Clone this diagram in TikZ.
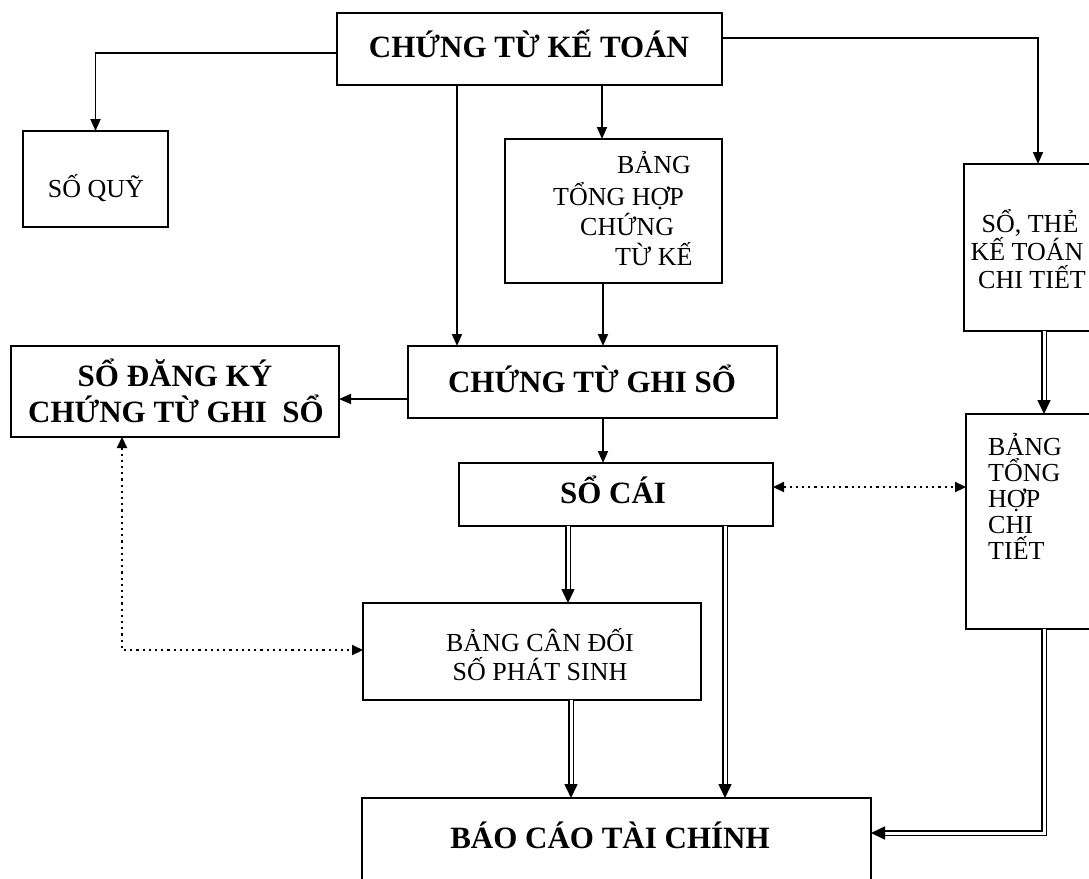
\documentclass[tikz,border=0pt]{standalone}
\usepackage{fontspec}
\setmainfont{Liberation Serif}
\usetikzlibrary{arrows.meta,calc}
\begin{document}
\begin{tikzpicture}[x=1pt,y=-1pt,
  box/.style={draw, line width=1.9pt, rectangle, inner sep=0pt, outer sep=0pt},
  arr/.style={line width=1.8pt, -{Triangle[length=12pt,width=10pt]}},
  dbl/.style={double, double distance=3pt, line width=1.6pt, -{Triangle[length=14pt,width=13pt]}},
  dotl/.style={line width=2.2pt, dash pattern=on 2.2pt off 4pt, {Triangle[length=11pt,width=10pt]}-{Triangle[length=11pt,width=10pt]}},
  rg/.style={font=\fontsize{26}{28}\selectfont, anchor=base, inner sep=0pt},
  rgw/.style={rg, anchor=base west},
  bd/.style={font=\fontsize{31}{33}\selectfont\bfseries, anchor=base, inner sep=0pt},
]
\path[use as bounding box, clip] (0,0) rectangle (1089,878);
\fill[white] (0,0) rectangle (1089,878);

% boxes
\node[box, minimum width=385pt, minimum height=72pt] (ctkt) at (529.5,49) {};
\node[box, minimum width=145pt, minimum height=96pt] (squy) at (95.5,179) {};
\node[box, minimum width=217pt, minimum height=144pt] (bthctu) at (613.5,211) {};
\node[box, minimum width=148pt, minimum height=167pt] (sothe) at (1038,247.5) {};
\node[box, minimum width=328pt, minimum height=91pt] (sdk) at (175,391.5) {};
\node[box, minimum width=369pt, minimum height=72pt] (ctgs) at (592.5,382) {};
\node[box, minimum width=314pt, minimum height=63pt] (socai) at (616,494.5) {};
\node[box, minimum width=156pt, minimum height=215pt] (bthct) at (1044,521.5) {};
\node[box, minimum width=338pt, minimum height=97pt] (bcd) at (532,651.5) {};
\node[box, minimum width=509pt, minimum height=102pt] (bctc) at (616.5,849) {};

% texts
\node[bd] (t1) at (529,57) {CHỨNG TỪ KẾ TOÁN};
\node[rg] (t2) at (96,197) {SỐ QUỸ};
\node[rgw] (t3a) at (617,173) {BẢNG};
\node[rgw] (t3b) at (553,205) {TỔNG HỢP};
\node[rgw] (t3c) at (580,235) {CHỨNG};
\node[rgw] (t3d) at (615,265) {TỪ KẾ};
\node[rg] (t4a) at (1030,232) {SỔ, THẺ};
\node[rg] (t4b) at (1027,260) {KẾ TOÁN};
\node[rg] (t4c) at (1032,288) {CHI TIẾT};
\node[bd] (t5a) at (175,386) {SỔ ĐĂNG KÝ};
\node[bd] (t5b) at (176,422) {CHỨNG TỪ GHI\ \ SỔ};
\node[bd] (t6) at (592,392) {CHỨNG TỪ GHI SỔ};
\node[bd] (t7) at (613,503) {SỔ CÁI};
\node[rgw] (t8a) at (988,455) {BẢNG};
\node[rgw] (t8b) at (988,481) {TỔNG};
\node[rgw] (t8c) at (988,507) {HỢP};
\node[rgw] (t8d) at (988,533) {CHI};
\node[rgw] (t8e) at (988,559) {TIẾT};
\node[rg] (t9a) at (540,651) {BẢNG CÂN ĐỐI};
\node[rg] (t9b) at (540,680) {SỐ PHÁT SINH};
\node[bd] (t10) at (610,848) {BÁO CÁO TÀI CHÍNH};

% connectors
\draw[arr] ([yshift=-4pt]ctkt.west) -| (squy.north);
\draw[arr] ([yshift=11pt]ctkt.east) -| (sothe.north);
\draw[arr] (ctkt.south -| 457,0) -- (ctgs.north -| 457,0);
\draw[arr] (ctkt.south -| 602,0) -- (bthctu.north -| 602,0);
\draw[arr] (bthctu.south -| 603,0) -- (ctgs.north -| 603,0);
\draw[arr] ([yshift=-17pt]ctgs.west) -- ([yshift=-17pt]ctgs.west -| sdk.east);
\draw[arr] (ctgs.south -| 603,0) -- (socai.north -| 603,0);
\draw[dotl] (socai.east |- 0,487) -- (bthct.west |- 0,487);
\draw[dotl] (sdk.south -| 122,0) |- (bcd.west |- 0,650);
\draw[dbl] (sothe.south -| bthct.north) -- (bthct.north);
\draw[dbl] (socai.south -| 568,0) -- (bcd.north -| 568,0);
\draw[dbl] (socai.south -| 725,0) -- (bctc.north -| 725,0);
\draw[dbl] (bcd.south -| 571,0) -- (bctc.north -| 571,0);
\draw[dbl] (bthct.south) |- (bctc.east |- 0,833);
\end{tikzpicture}
\end{document}
